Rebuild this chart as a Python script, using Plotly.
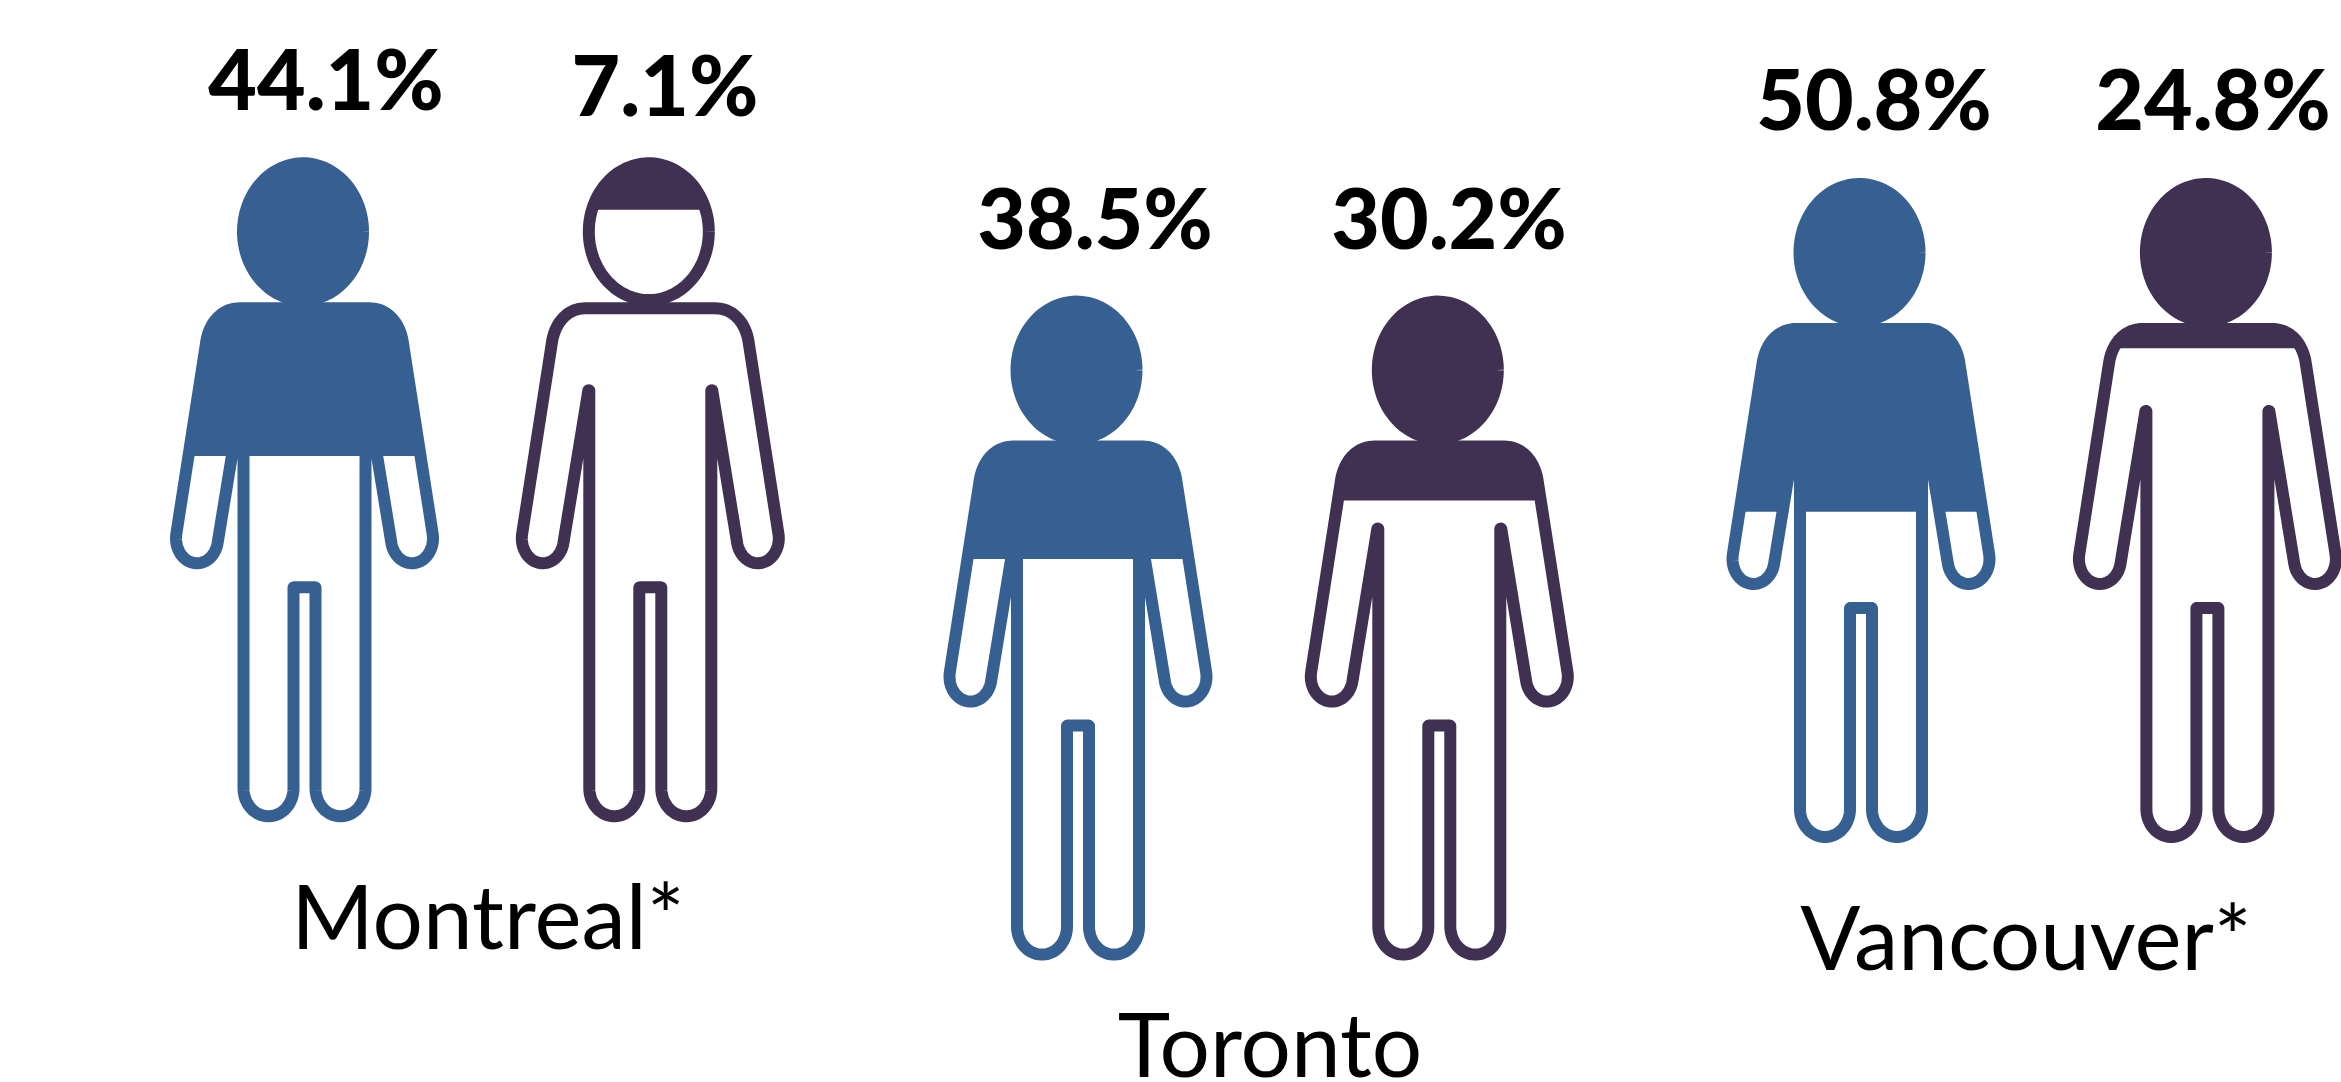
import numpy as np
import plotly.graph_objects as go

# ---- data ----
cities = ["Montreal*", "Toronto", "Vancouver*"]
blue_pct = [44.1, 38.5, 50.8]
purple_pct = [7.1, 30.2, 24.8]
# filled share of figure height as actually drawn (percent from top)
blue_fill = [44.9, 39.6, 50.2]
purple_fill = [7.9, 30.8, 25.6]

# ---- layout of the six figures ----
fig_x = [304.5, 650.3, 1078.0, 1439.3, 1861.0, 2207.4]
fig_top = [157.3, 157.3, 295.6, 295.6, 178.0, 178.0]
label_x = [326, 665, 1095, 1449, 1874, 2213]
label_y = [89, 95, 228, 228, 109, 109]
city_x = [488, 1270, 2026]
city_y = [927, 1055, 948]

BLUE = "#376092"
PURPLE = "#403152"
H = 665.0
W = 12


def arc(cx, cy, rx, ry, a0, a1, n=40):
    t = np.radians(np.linspace(a0, a1, n))
    return np.c_[cx + rx * np.cos(t), cy + ry * np.sin(t)]


def bez(p0, p1, p2, p3, n=24):
    t = np.linspace(0, 1, n)[:, None]
    p0, p1, p2, p3 = map(np.array, (p0, p1, p2, p3))
    return (1 - t) ** 3 * p0 + 3 * (1 - t) ** 2 * t * p1 + 3 * (1 - t) * t ** 2 * p2 + t ** 3 * p3


def half_body():
    """Right half of the glyph's centre line, top to crotch, relative to top centre."""
    parts = [
        np.array([[0, 151.0], [65, 151.0]]),
        bez((65, 151), (84, 151), (96, 167), (98.5, 186)),
        arc(107.5, 381, 21, 25, -10, 170),
        arc(61.5, 233.5, 0.5, 0.5, -10, -180, 14),
        arc(36, 631, 25, 28, 0, 180),
        arc(10.5, 430.5, 0.5, 0.5, 0, -90, 10),
        np.array([[0, 430.0]]),
    ]
    return np.vstack(parts)


HALF = half_body()
BODY = np.vstack([HALF, (HALF * [-1, 1])[::-1]])
HEAD = arc(-1.5, 74.4, 60, 68.4, 0, 360, 120)


def clip_above(poly, ylim):
    out = []
    n = len(poly)
    for i in range(n):
        a, b = poly[i], poly[(i + 1) % n]
        ina, inb = a[1] <= ylim, b[1] <= ylim
        if ina:
            out.append(a)
        if ina != inb:
            t = (ylim - a[1]) / (b[1] - a[1])
            out.append(a + t * (b - a))
    return np.array(out) if out else np.empty((0, 2))


def closed(p):
    return np.vstack([p, p[:1]])


fig = go.Figure()
fills = [v for pair in zip(blue_fill, purple_fill) for v in pair]
pcts = [v for pair in zip(blue_pct, purple_pct) for v in pair]
colors = [BLUE, PURPLE] * 3

for i in range(6):
    x0, y0, col = fig_x[i], fig_top[i], colors[i]
    level = fills[i] / 100 * H
    for shape in (BODY, HEAD):
        clipped = clip_above(shape, level)
        if len(clipped) > 2:
            c = closed(clipped)
            fig.add_trace(go.Scatter(x=c[:, 0] + x0, y=c[:, 1] + y0, mode="lines", fill="toself",
                                     fillcolor=col, line=dict(width=0, color=col, simplify=False),
                                     hoverinfo="skip"))
    for shape in (BODY, HEAD):
        c = closed(shape)
        fig.add_trace(go.Scatter(x=c[:, 0] + x0, y=c[:, 1] + y0, mode="lines",
                                 line=dict(width=W, color=col, simplify=False), hoverinfo="skip"))

fig.add_trace(go.Scatter(x=label_x, y=label_y, mode="text",
                         text=[f"{v:.1f}%" for v in pcts], textposition="middle center",
                         textfont=dict(family="Lato", size=84, color="#000000", weight=900),
                         hoverinfo="skip", cliponaxis=False))
fig.add_trace(go.Scatter(x=city_x, y=city_y, mode="text", text=cities, textposition="middle center",
                         textfont=dict(family="Lato", size=89, color="#000000"),
                         hoverinfo="skip", cliponaxis=False))

fig.update_layout(width=2341, height=1082, margin=dict(l=0, r=0, t=0, b=0), showlegend=False,
                  paper_bgcolor="white", plot_bgcolor="white",
                  xaxis=dict(range=[0, 2341], visible=False, fixedrange=True),
                  yaxis=dict(range=[1082, 0], visible=False, fixedrange=True))
fig.write_html("out.html", config={"displayModeBar": False},
               post_script="document.body.style.margin='0';document.body.style.overflow='hidden';")
